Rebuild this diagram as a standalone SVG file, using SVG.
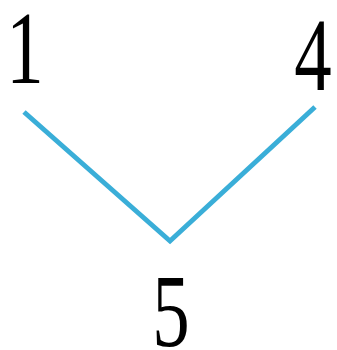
<svg xmlns="http://www.w3.org/2000/svg" width="337" height="350" viewBox="0 0 337 350">
<style>
.lbl{font-family:"Liberation Serif","Times New Roman",serif;font-size:104px;fill:#000;text-anchor:middle}
.edge{fill:none;stroke:#3aaed8;stroke-width:5;stroke-linecap:butt;stroke-linejoin:miter}
</style>
<rect width="337" height="350" fill="#fff"/>
<g id="connectors">
<polyline class="edge" points="24,112 170,241 315,107"/>
</g>
<g id="node1"><text class="lbl" transform="translate(25,83) scale(0.72,1)">1</text></g>
<g id="node4"><text class="lbl" transform="translate(313,90) scale(0.72,1)">4</text></g>
<g id="node5"><text class="lbl" transform="translate(171,346) scale(0.72,1)">5</text></g>
</svg>
